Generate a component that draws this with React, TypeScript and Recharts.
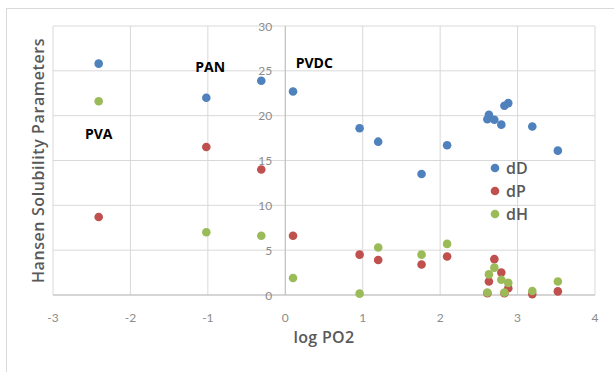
import React from 'react';
import {
  ScatterChart, Scatter, XAxis, YAxis, CartesianGrid, ReferenceLine, ReferenceDot,
} from 'recharts';

// log PO2 of each polymer / solvent point
const logPO2 = [-2.41, -1.02, -0.31, 0.1, 0.96, 1.2, 1.76, 2.09, 2.61, 2.63, 2.7, 2.79, 2.83, 2.88, 3.19, 3.52];
const dD = [25.8, 22.0, 23.9, 22.7, 18.6, 17.1, 13.5, 16.7, 19.6, 20.1, 19.55, 19.0, 21.1, 21.4, 18.8, 16.1];
const dP = [8.7, 16.5, 14.0, 6.6, 4.5, 3.9, 3.4, 4.3, 0.2, 1.5, 4.0, 2.5, 0.2, 0.75, 0.1, 0.4];
const dH = [21.6, 7.0, 6.6, 1.9, 0.15, 5.3, 4.5, 5.7, 0.27, 2.3, 3.05, 1.7, 0.27, 1.35, 0.45, 1.5];

const xTicks = [-3, -2, -1, 0, 1, 2, 3, 4];
const yTicks = [0, 5, 10, 15, 20, 25, 30];

const polymerLabels = [
  { name: 'PVA', x: -2.41, y: 17.9 },
  { name: 'PAN', x: -0.97, y: 25.4 },
  { name: 'PVDC', x: 0.375, y: 25.9 },
];

const series = [
  { name: 'dD', values: dD, color: '#4F81BD' },
  { name: 'dP', values: dP, color: '#C0504D' },
  { name: 'dH', values: dH, color: '#9BBB59' },
];

const W = 614;
const H = 372;
const M = { top: 26, right: 19, bottom: 47, left: 52 };
const Y_W = 1;
const plotLeft = M.left + Y_W;
const plotW = W - plotLeft - M.right;
const plotMidY = (M.top + H - M.bottom - 30) / 2;
const zeroX = plotLeft + (3 / 7) * plotW;
const FONT = '"Open Sans", Lato, sans-serif';
const TICK_FONT = 'Lato, "Open Sans", sans-serif';

const Dot = (props: any) => {
  const { cx, cy, fill } = props;
  if (cx == null || cy == null) return null;
  return <circle cx={cx} cy={cy} r={4.3} fill={fill} />;
};

const YTick = (props: any) => {
  const { y, payload } = props;
  return (
    <text x={zeroX - 13} y={y} textAnchor="end" dominantBaseline="central"
      fill="#8c8c8c" fontSize={12} fontFamily={TICK_FONT}>
      {payload.value}
    </text>
  );
};

const YTitle = () => (
  <text x={plotLeft - 15} y={plotMidY} transform={`rotate(-90, ${plotLeft - 15}, ${plotMidY})`}
    textAnchor="middle" dominantBaseline="central" fill="#595959" fontSize={16} fontWeight={600}
    fontFamily={FONT} letterSpacing={0.6}>
    Hansen Solubility Parameters
  </text>
);

export default function App() {
  return (
    <div style={{ position: 'fixed', left: 0, top: 0, width: W, height: H, background: '#fff', overflow: 'hidden' }}>
      <div style={{ position: 'absolute', left: 6, top: 8, width: 700, height: 500, border: '1px solid #d9d9d9' }} />
      <ScatterChart width={W} height={H} margin={M} style={{ position: 'absolute', left: 0, top: 0 }}>
        <CartesianGrid stroke="#d9d9d9" />
        <XAxis
          type="number" dataKey="x" domain={[-3, 4]} ticks={xTicks} height={30}
          axisLine={{ stroke: '#bfbfbf' }} tickLine={false}
          tick={{ fill: '#8c8c8c', fontSize: 12, fontFamily: TICK_FONT }} tickMargin={12}
          label={{ value: 'log PO2', position: 'bottom', offset: 7, fill: '#595959', fontSize: 16, fontWeight: 600, fontFamily: FONT, letterSpacing: 0.3 }}
        />
        <YAxis
          type="number" dataKey="y" domain={[0, 30]} ticks={yTicks} width={Y_W}
          axisLine={false} tickLine={false} tick={<YTick />}
          label={{ content: () => <YTitle /> }}
        />
        <ReferenceLine x={0} stroke="#bfbfbf" />
        {series.map((s) => (
          <Scatter
            key={s.name}
            name={s.name}
            data={logPO2.map((x, i) => ({ x, y: s.values[i] }))}
            fill={s.color}
            shape={<Dot />}
            isAnimationActive={false}
          />
        ))}
        {polymerLabels.map((p) => (
          <ReferenceDot key={p.name} x={p.x} y={p.y} r={0} stroke="none"
            label={{ value: p.name, position: 'center', fill: '#000', fontSize: 14, fontWeight: 'bold', fontFamily: FONT }}
          />
        ))}
      </ScatterChart>
      <div style={{ position: 'absolute', left: 490, top: 156, fontFamily: FONT }}>
        {series.map((s) => (
          <div key={s.name} style={{ display: 'flex', alignItems: 'center', height: 23 }}>
            <svg width={10} height={10} style={{ marginRight: 6 }}>
              <circle cx={5} cy={5} r={4.3} fill={s.color} />
            </svg>
            <span style={{ color: '#595959', fontSize: 16, fontWeight: 600 }}>{s.name}</span>
          </div>
        ))}
      </div>
    </div>
  );
}
